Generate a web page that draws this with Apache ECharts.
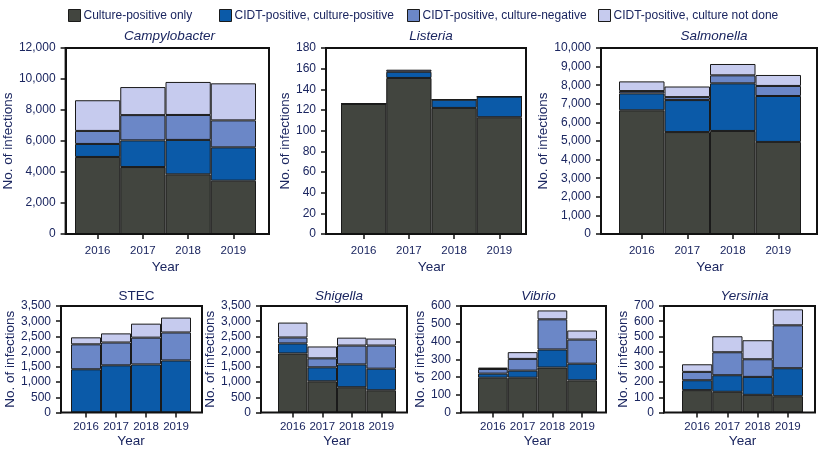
<!DOCTYPE html>
<html><head><meta charset="utf-8">
<script src="https://cdn.jsdelivr.net/npm/echarts@6/dist/echarts.min.js"></script>
<style>html,body{margin:0;padding:0;background:#fff}#c{width:825px;height:459px}</style>
</head><body><div id="c"></div>
<script>
const years = ['2016','2017','2018','2019'];
const seriesNames = ['Culture-positive only','CIDT-positive, culture-positive','CIDT-positive, culture-negative','CIDT-positive, culture not done'];

const campyCulture = [4970, 4320, 3850, 3440];
const campyCidtPos = [840, 1720, 2220, 2150];
const campyCidtNeg = [840, 1630, 1610, 1740];
const campyNotDone = [1980, 1810, 2130, 2390];

const listeriaCulture = [126, 151, 122, 113];
const listeriaCidtPos = [0, 6, 8, 20];
const listeriaCidtNeg = [0, 2, 0, 0];
const listeriaNotDone = [0, 0, 0, 0];

const salmCulture = [6650, 5480, 5540, 4950];
const salmCidtPos = [910, 1720, 2560, 2470];
const salmCidtNeg = [125, 160, 430, 540];
const salmNotDone = [520, 570, 610, 590];

const stecCulture = [0, 0, 0, 0];
const stecCidtPos = [1420, 1550, 1580, 1710];
const stecCidtNeg = [820, 750, 880, 920];
const stecNotDone = [230, 300, 460, 490];

const shigCulture = [1940, 1025, 830, 730];
const shigCidtPos = [330, 460, 750, 710];
const shigCidtNeg = [195, 295, 620, 760];
const shigNotDone = [490, 390, 260, 230];

const vibCulture = [196, 196, 253, 181];
const vibCidtPos = [23, 40, 102, 94];
const vibCidtNeg = [26, 66, 170, 136];
const vibNotDone = [8, 38, 50, 51];

const yersCulture = [147, 136, 116, 107];
const yersCidtPos = [65, 109, 118, 184];
const yersCidtNeg = [55, 151, 116, 282];
const yersNotDone = [50, 105, 125, 105];

const TXT = '#1b2660';
const FONT = "'Liberation Sans', Arial, sans-serif";
const colors = ['#42453f', '#0b5aa8', '#6b87c7', '#c6cbee'];

const panels = [
  {title:'Campylobacter', italic:true, d:[campyCulture,campyCidtPos,campyCidtNeg,campyNotDone], max:12000, iv:2000, f:[60,556], b:[75,569], tb:[48,225], ng:41, row:0},
  {title:'Listeria', italic:true, d:[listeriaCulture,listeriaCidtPos,listeriaCidtNeg,listeriaNotDone], max:180, iv:20, f:[326,299], b:[341,303], tb:[48,225], ng:28, row:0},
  {title:'Salmonella', italic:true, d:[salmCulture,salmCidtPos,salmCidtNeg,salmNotDone], max:10000, iv:1000, f:[601,8], b:[619,24], tb:[48,225], ng:40, row:0},
  {title:'STEC', italic:false, d:[stecCulture,stecCidtPos,stecCidtNeg,stecNotDone], max:3500, iv:500, f:[61,623], b:[71,634], tb:[306,46.5], ng:42, row:1},
  {title:'Shigella', italic:true, d:[shigCulture,shigCidtPos,shigCidtNeg,shigNotDone], max:3500, iv:500, f:[261,418], b:[278,429], tb:[306,46.5], ng:37, row:1},
  {title:'Vibrio', italic:true, d:[vibCulture,vibCidtPos,vibCidtNeg,vibNotDone], max:600, iv:100, f:[461,219], b:[478,228], tb:[306,46.5], ng:27, row:1},
  {title:'Yersinia', italic:true, d:[yersCulture,yersCidtPos,yersCidtNeg,yersNotDone], max:700, iv:100, f:[664,10], b:[682,22], tb:[306,46.5], ng:25, row:1}
];

const grid = [], xAxis = [], yAxis = [], series = [], title = [];
panels.forEach((p, i) => {
  const fi = i*2, bi = i*2+1;
  const top = p.tb[0], bottom = p.tb[1];
  grid.push({left:p.f[0], right:p.f[1], top:top, bottom:bottom, show:true, borderColor:'#111', borderWidth:2, backgroundColor:'transparent', z:10});
  grid.push({left:p.b[0], right:p.b[1], top:top, bottom:bottom});
  xAxis.push({gridIndex:fi, type:'category', data:years, show:false});
  yAxis.push({gridIndex:fi, type:'value', min:0, max:p.max, interval:p.iv,
    axisLine:{show:true, lineStyle:{color:'#111', width:2}},
    axisTick:{show:true, inside:false, length:5, lineStyle:{color:'#111', width:1.5}},
    axisLabel:{color:TXT, fontFamily:FONT, fontSize:12, margin:10},
    splitLine:{show:false},
    name:'No. of infections', nameLocation:'middle', nameGap:p.ng,
    nameTextStyle:{color:TXT, fontFamily:FONT, fontSize:13.5}});
  xAxis.push({gridIndex:bi, type:'category', data:years, boundaryGap:true,
    axisLine:{show:false},
    axisTick:{show:true, alignWithLabel:true, inside:false, length:5, lineStyle:{color:'#111', width:1.5}},
    axisLabel:{color:TXT, fontFamily:FONT, fontSize:11.5, margin:p.row===0?11:8, interval:0},
    name:'Year', nameLocation:'middle', nameGap:p.row===0?26:21.5,
    nameTextStyle:{color:TXT, fontFamily:FONT, fontSize:13.5}});
  yAxis.push({gridIndex:bi, type:'value', min:0, max:p.max, interval:p.iv, show:false});
  p.d.forEach((arr, k) => {
    series.push({type:'bar', name:seriesNames[k], xAxisIndex:bi, yAxisIndex:bi, stack:'s'+i,
      data:arr, barCategoryGap:'0%', barGap:'0%',
      itemStyle:{color:colors[k], borderColor:'#1a1a1a', borderWidth:arr.some(v=>v>0)?1:0},
      emphasis:{disabled:true}, silent:true, animation:false});
  });
  const cx = p.f[0] + (825 - p.f[0] - p.f[1]) / 2;
  title.push({text:p.title, left:cx, top:p.row===0?24:284, textAlign:'center',
    textStyle:{color:TXT, fontFamily:FONT, fontSize:13.5, fontWeight:'normal', fontStyle:p.italic?'italic':'normal'}});
});

const legendX = [68, 219, 407, 598];
const legend = seriesNames.map((n, k) => ({
  data:[{name:n, icon:'rect', itemStyle:{color:colors[k], borderColor:'#1a1a1a', borderWidth:1}}],
  left:legendX[k], top:9, padding:0, itemWidth:12, itemHeight:12, itemGap:4, selectedMode:false,
  textStyle:{color:TXT, fontFamily:FONT, fontSize:12, padding:[0,0,0,-2]}
}));

const chart = echarts.init(document.getElementById('c'), null, {renderer:'canvas'});
chart.setOption({animation:false, title, legend, grid, xAxis, yAxis, series});
</script></body></html>
